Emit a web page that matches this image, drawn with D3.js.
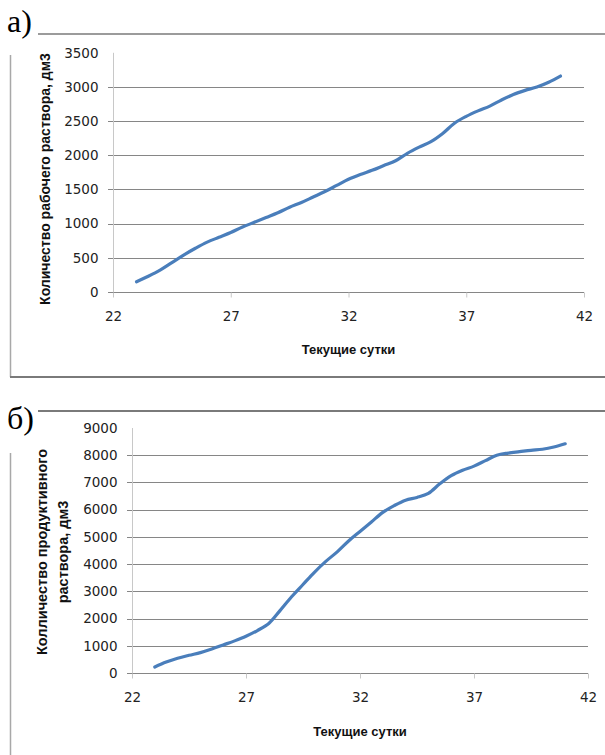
<!DOCTYPE html>
<html>
<head>
<meta charset="utf-8">
<script src="https://cdn.jsdelivr.net/npm/d3@7"></script>
<style>
  html, body { margin: 0; padding: 0; background: #fff; }
  svg { display: block; }
  .tick-label { font-family: "DejaVu Sans", sans-serif; font-size: 13.5px; fill: #222; }
  .axis-title { font-family: "Liberation Sans", Arial, sans-serif; font-weight: bold; fill: #111; }
  .panel-label { font-family: "Liberation Serif", "Times New Roman", serif; font-size: 32px; fill: #000; }
</style>
</head>
<body>
<svg id="chart" width="605" height="755"></svg>
<script>
// x values (days) shared by both panels
const days = [23, 23.5, 24, 24.5, 25, 25.5, 26, 26.5, 27, 27.5, 28, 28.5, 29, 29.5, 30,
  30.5, 31, 31.5, 32, 32.5, 33, 33.5, 34, 34.5, 35, 35.5, 36, 36.5, 37, 37.5, 38,
  38.5, 39, 39.5, 40, 40.5, 41];

// a) working solution, dm3
const workVolume = [150, 230, 320, 430, 540, 640, 730, 800, 870, 950, 1020, 1090, 1160, 1240, 1310,
  1390, 1470, 1560, 1650, 1720, 1780, 1850, 1920, 2030, 2120, 2200, 2320, 2470, 2570, 2650, 2720,
  2810, 2890, 2950, 3000, 3070, 3160];

// b) productive solution, dm3
const prodVolume = [220, 400, 540, 650, 750, 880, 1030, 1180, 1350, 1560, 1820, 2300, 2800, 3250, 3700,
  4100, 4450, 4850, 5200, 5550, 5900, 6150, 6350, 6450, 6600, 6950, 7250, 7450, 7600, 7800, 8000,
  8080, 8130, 8180, 8220, 8300, 8420];

const xTicks = [22, 27, 32, 37, 42];
const yTicksA = [0, 500, 1000, 1500, 2000, 2500, 3000, 3500];
const yTicksB = [0, 1000, 2000, 3000, 4000, 5000, 6000, 7000, 8000, 9000];

const xTitle = "Текущие сутки";
const yTitleA = ["Количество рабочего раствора, дм3"];
const yTitleB = ["Колличество продуктивного", "раствора, дм3"];

const svg = d3.select("#chart");

function drawPanel(opt) {
  const g = svg.append("g");
  const x = d3.scaleLinear().domain([22, 42]).range([opt.left, opt.right]);
  const y = d3.scaleLinear().domain([0, opt.yMax]).range([opt.bottom, opt.top]);

  // gridlines (not at the top value)
  g.append("g")
    .selectAll("line")
    .data(opt.yTicks.filter(d => d > 0 && d < opt.yMax))
    .join("line")
    .attr("x1", opt.left - 5).attr("x2", opt.right)
    .attr("y1", d => Math.round(y(d)) + 0.5).attr("y2", d => Math.round(y(d)) + 0.5)
    .attr("stroke", "#868686").attr("stroke-width", 1);

  // y axis: light line, labels only
  const yAxis = g.append("g")
    .attr("transform", `translate(${opt.left + 0.5},0)`)
    .call(d3.axisLeft(y).tickValues(opt.yTicks).tickSize(0).tickPadding(opt.yPad).tickFormat(d3.format("d")));
  yAxis.select(".domain").remove();
  yAxis.selectAll("text").attr("class", "tick-label").attr("font-family", null).attr("font-size", null);
  g.append("line")
    .attr("x1", opt.left + 0.5).attr("x2", opt.left + 0.5)
    .attr("y1", y(opt.yMax)).attr("y2", opt.bottom + 5)
    .attr("stroke", "#c8c8c8");

  // x axis
  g.append("line")
    .attr("x1", opt.left - 5).attr("x2", opt.right)
    .attr("y1", Math.round(opt.bottom) + 0.5).attr("y2", Math.round(opt.bottom) + 0.5)
    .attr("stroke", "#868686");
  const xAxis = g.append("g")
    .attr("transform", `translate(0,${Math.round(opt.bottom) + 0.5})`)
    .call(d3.axisBottom(x).tickValues(xTicks).tickSize(5).tickPadding(14).tickFormat(d3.format("d")));
  xAxis.select(".domain").remove();
  xAxis.selectAll("line").attr("stroke", "#c8c8c8");
  xAxis.selectAll("text").attr("class", "tick-label").attr("font-family", null).attr("font-size", null);

  // series
  const line = d3.line().x((d, i) => x(days[i])).y(d => y(d)).curve(d3.curveCatmullRom);
  g.append("path")
    .datum(opt.values)
    .attr("d", line)
    .attr("fill", "none")
    .attr("stroke", "#4a7ebb")
    .attr("stroke-width", 3.2)
    .attr("stroke-linecap", "round")
    .attr("stroke-linejoin", "round");

  // axis titles
  g.append("text")
    .attr("class", "axis-title")
    .attr("x", (opt.left + opt.right) / 2)
    .attr("y", opt.xTitleY)
    .attr("text-anchor", "middle")
    .attr("font-size", "13px")
    .text(xTitle);

  const yt = g.append("text")
    .attr("class", "axis-title")
    .attr("text-anchor", "middle")
    .attr("font-size", opt.yTitleSize)
    .attr("transform", `translate(${opt.yTitleX},${opt.yTitleY}) rotate(-90)`);
  opt.yTitle.forEach((t, i) => {
    yt.append("tspan").attr("x", 0).attr("dy", i === 0 ? 0 : opt.yTitleGap).text(t);
  });

  // frame pieces
  g.append("line")
    .attr("x1", 38).attr("x2", 605).attr("y1", opt.frameTop).attr("y2", opt.frameTop)
    .attr("stroke", "#7a7a7a").attr("stroke-width", opt.frameTopW);
  g.append("line")
    .attr("x1", 10.5).attr("x2", 10.5).attr("y1", opt.frameLeftTop).attr("y2", opt.frameBottom)
    .attr("stroke", "#a8a8a8").attr("stroke-width", 1.5);
  if (opt.frameBottomLine) {
    g.append("line")
      .attr("x1", 10).attr("x2", 605).attr("y1", opt.frameBottom).attr("y2", opt.frameBottom)
      .attr("stroke", "#7a7a7a").attr("stroke-width", 2);
  }

  g.append("text")
    .attr("class", "panel-label")
    .attr("x", 7).attr("y", opt.labelY)
    .text(opt.label);
}

drawPanel({
  left: 113, right: 584, top: 52.8, bottom: 292, yMax: 3500,
  yTicks: yTicksA, values: workVolume, yPad: 15,
  xTitleY: 354, yTitle: yTitleA, yTitleX: 50, yTitleY: 179, yTitleSize: "14px", yTitleGap: 0,
  frameTop: 34, frameTopW: 1.5, frameLeftTop: 55, frameBottom: 377, frameBottomLine: true,
  label: "a)", labelY: 32
});

drawPanel({
  left: 132, right: 588, top: 428, bottom: 673, yMax: 9000,
  yTicks: yTicksB, values: prodVolume, yPad: 15,
  xTitleY: 736, yTitle: yTitleB, yTitleX: 47, yTitleY: 552, yTitleSize: "14.5px", yTitleGap: 21,
  frameTop: 411, frameTopW: 2, frameLeftTop: 453, frameBottom: 755, frameBottomLine: false,
  label: "б)", labelY: 429
});
</script>
</body>
</html>
